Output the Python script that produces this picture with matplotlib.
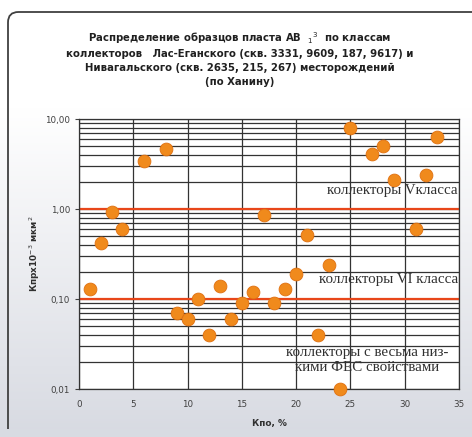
import numpy as np
import matplotlib
matplotlib.use("Agg")
import matplotlib.pyplot as plt
from matplotlib.patches import FancyBboxPatch, Rectangle
from matplotlib.ticker import FixedLocator, LogLocator, NullFormatter

# -------------------------------------------------
# data
# -------------------------------------------------
kpo = [1, 2, 3, 4, 6, 8, 9, 10, 11, 12, 13, 14, 15, 16, 17, 18, 19, 20,
       21, 22, 23, 24, 25, 27, 28, 29, 31, 32, 33]
kpr = [0.13, 0.42, 0.93, 0.6, 3.4, 4.7, 0.07, 0.06, 0.1, 0.04, 0.14, 0.06,
       0.09, 0.12, 0.85, 0.09, 0.13, 0.19, 0.52, 0.04, 0.24, 0.01, 8.0,
       4.1, 5.0, 2.1, 0.6, 2.4, 6.3]

class_limits = [1.0, 0.1]
y_ticks = [0.01, 0.1, 1, 10]
y_tick_labels = ["0,01", "0,10", "1,00", "10,00"]
x_ticks = [0, 5, 10, 15, 20, 25, 30, 35]

title_lines = ["Распределение образцов пласта АВ  $_{1}$$^{3}$  по классам",
               "коллекторов   Лас-Еганского (скв. 3331, 9609, 187, 9617) и",
               "Нивагальского (скв. 2635, 215, 267) месторождений",
               "(по Ханину)"]

plt.rcParams["font.family"] = ["DejaVu Sans"]

fig = plt.figure(figsize=(4.72, 4.37), dpi=100)

# -------------------------------------------------
# background gradient + rounded frame
# -------------------------------------------------
bg = fig.add_axes([0, 0, 1, 1], zorder=-10)
grad = np.linspace(0, 1, 256)[:, None]
grad = np.clip((grad - 0.25) / 0.75, 0, 1)
top_c = np.array([1.0, 1.0, 1.0])
bot_c = np.array([0.845, 0.855, 0.885])
img = top_c[None, None, :] * (1 - grad[:, :, None]) + bot_c[None, None, :] * grad[:, :, None]
bg.imshow(img, aspect="auto", extent=[0, 1, 0, 1], origin="upper")
bg.set_xlim(0, 1)
bg.set_ylim(0, 1)
bg.axis("off")

# frame runs off the right and bottom edges
frame = FancyBboxPatch((8 / 472, -30 / 437), 500 / 472, 455 / 437,
                       boxstyle="round,pad=0,rounding_size=0.022",
                       mutation_aspect=472 / 437,
                       transform=bg.transAxes, fill=False,
                       edgecolor="#404040", linewidth=1.3, clip_on=True)
bg.add_patch(frame)
bg.add_patch(Rectangle((0, 0), 1, 8 / 437, transform=bg.transAxes,
                       facecolor="#D8DBE2", edgecolor="none", zorder=5))

# -------------------------------------------------
# main plot
# -------------------------------------------------
ax = fig.add_axes([79 / 472, 1 - 389 / 437, 380 / 472, 270 / 437])
ax.set_facecolor("white")
ax.set_yscale("log")
ax.set_xlim(0, 35)
ax.set_ylim(0.01, 10)

ax.yaxis.set_major_locator(FixedLocator(y_ticks))
ax.set_yticklabels(y_tick_labels)
ax.yaxis.set_minor_locator(LogLocator(base=10, subs=np.arange(2, 10)))
ax.yaxis.set_minor_formatter(NullFormatter())
ax.set_xticks(x_ticks)

ax.grid(True, which="major", color="#333333", linewidth=0.9)
ax.grid(True, which="minor", axis="y", color="#333333", linewidth=0.9)
ax.set_axisbelow(True)

for limit in class_limits:
    ax.axhline(limit, color="#E8461A", linewidth=1.6, zorder=2)

ax.scatter(kpo, kpr, s=85, color="#F08A1C", edgecolors="#E07010",
           linewidths=0.6, zorder=3, clip_on=False)

for sp in ax.spines.values():
    sp.set_color("#333333")
    sp.set_linewidth(0.9)

ax.tick_params(axis="both", which="major", labelsize=6.3, colors="#404040",
               length=3, width=0.8)
ax.tick_params(axis="x", length=0, pad=8)
ax.tick_params(axis="y", which="minor", length=0)

ax.set_xlabel("Кпо, %", fontsize=6.4, fontweight="bold", labelpad=7,
              color="#303030")
ax.set_ylabel("Кпрх10$^{-3}$ мкм$^{2}$", fontsize=6.4, fontweight="bold",
              labelpad=2, color="#303030")

# class annotations
serif = ["Liberation Serif", "DejaVu Serif"]
ax.text(34.9, 1.6, "коллекторы Vкласса", family=serif, fontsize=10.8,
        ha="right", va="center", zorder=4, color="#303030")
ax.text(34.9, 0.165, "коллекторы VI класса", family=serif, fontsize=10.8,
        ha="right", va="center", zorder=4, color="#303030")
ax.text(26.5, 0.021, "коллекторы с весьма низ-\nкими ФЕС свойствами",
        family=serif, fontsize=10.8, ha="center", va="center",
        linespacing=1.12, zorder=4, color="#303030")

# title, one line at a time so the spacing stays even
for i, line in enumerate(title_lines):
    fig.text(240 / 472, 1 - (42.5 + 14.2 * i) / 437, line, ha="center",
             va="baseline", fontsize=7.3, fontweight="bold", color="#202020")

fig.savefig("out.png", dpi=100)
